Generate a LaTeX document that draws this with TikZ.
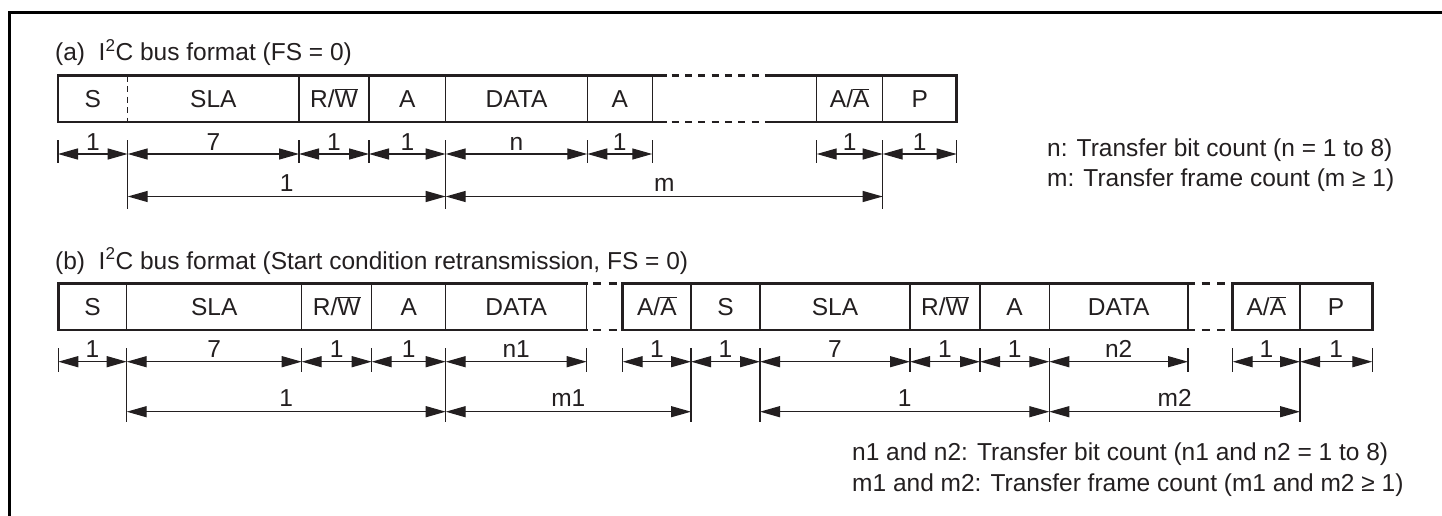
\documentclass[tikz,border=0pt]{standalone}
\usepackage{fontspec}
\setmainfont{Liberation Sans}
\usetikzlibrary{arrows.meta}
\definecolor{ink}{HTML}{231F20}
\newcommand{\ovl}[1]{$\overline{\mbox{#1}}$}
\begin{document}
\begin{tikzpicture}[x=1pt,y=-1pt,
  txt/.style={font=\fontsize{24.5}{29}\selectfont, inner sep=0pt, text=ink},
  cell/.style={txt, anchor=base},
  lab/.style={txt, anchor=base},
  legend/.style={txt, anchor=base west},
  outline/.style={draw=ink, line width=2.8pt, line join=miter},
  divider/.style={draw=ink, line width=1.5pt},
  sdash/.style={draw=ink, line width=1.3pt, dash pattern=on 6pt off 4.5pt},
  gapdash/.style={draw=ink, line width=2.8pt, dash pattern=on 8pt off 7.5pt, dash phase=9pt},
  gapdashA/.style={draw=ink, line width=2.8pt, dash pattern=on 7pt off 6.3pt, dash phase=8.3pt},
  tick/.style={draw=ink, line width=1.3pt},
  dimline/.style={draw=ink, line width=1.3pt, {Triangle[length=20pt,width=11pt]}-{Triangle[length=20pt,width=11pt]}}
]
\useasboundingbox (0,0) rectangle (1442,516);
% outer frame
\draw[line width=3pt] (9.5,520) -- (9.5,12.5) -- (1446,12.5);

% ================= (a) =================
\node[legend] (titleA) at (55,61) {(a)\ \ I\textsuperscript{2}C bus format (FS = 0)};
% outline
\draw[outline] (666.7,75.7) -- (58,75.7) -- (58,122) -- (666.7,122);
\draw[outline] (772,75.7) -- (956.7,75.7) -- (956.7,122) -- (772,122);
\draw[gapdashA] (666.7,75.7) -- (772,75.7);
\draw[gapdashA] (666.7,122) -- (772,122);
% dividers
\draw[sdash] (127.7,75.7) -- (127.7,122);
\foreach \x in {299,369,445.7,587.3,652.3,816.7,882.7}
  \draw[divider] (\x,75.7) -- (\x,122);
% cell texts
\node[cell] (aS)    at (92.85,107.7)  {S};
\node[cell] (aSLA)  at (213.35,107.7) {SLA};
\node[cell] (aRW)   at (334,107.7)    {R/\ovl{W}};
\node[cell] (aA1)   at (407.35,107.7) {A};
\node[cell] (aDATA) at (516.5,107.7)  {DATA};
\node[cell] (aA2)   at (619.8,107.7)  {A};
\node[cell] (aAA)   at (849.7,107.7)  {A/\ovl{A}};
\node[cell] (aP)    at (919.7,107.7)  {P};
% extension ticks
\foreach \x in {58,299,369,587.3,652.3,816.7,956.7}
  \draw[tick] (\x,140) -- (\x,163);
\foreach \x in {127.7,445.7,882.7}
  \draw[tick] (\x,140) -- (\x,209);
% dimension row 1
\foreach \a/\b/\t in {58/127.7/1, 127.7/299/7, 299/369/1, 369/445.7/1,
                      445.7/587.3/n, 587.3/652.3/1, 816.7/882.7/1, 882.7/956.7/1}{
  \draw[dimline] (\a,154) -- (\b,154);
  \node[lab] at ({(\a+\b)/2},150) {\t};
}
% dimension row 2
\foreach \a/\b/\t in {127.7/445.7/1, 445.7/882.7/m}{
  \draw[dimline] (\a,196.5) -- (\b,196.5);
  \node[lab] at ({(\a+\b)/2},191.5) {\t};
}
% legend
\node[legend] (legA1) at (1047,156) {n: Transfer bit count (n = 1 to 8)};
\node[legend] (legA2) at (1047,186) {m: Transfer frame count (m ≥ 1)};

% ================= (b) =================
\node[legend] (titleB) at (55,269) {(b)\ \ I\textsuperscript{2}C bus format (Start condition retransmission, FS = 0)};
% outline
\draw[outline] (588,283.3) -- (58.3,283.3) -- (58.3,330) -- (588,330);
\draw[outline] (1195,283.3) -- (622.7,283.3) -- (622.7,330) -- (1195,330);
\draw[outline] (1232.7,283.3) rectangle (1372.3,330);
\draw[gapdash] (586.7,283.3) -- (622.7,283.3);
\draw[gapdash] (586.7,330) -- (622.7,330);
\draw[gapdash] (1195,283.3) -- (1232.7,283.3);
\draw[gapdash] (1195,330) -- (1232.7,330);
% dividers
\foreach \x in {126.7,301.7,371.7,445.7,586.7,691,760,910,980,1049.3,1188,1300}
  \draw[divider] (\x,283.3) -- (\x,330);
% cell texts
\node[cell] (bS1)    at (92.5,315.5)    {S};
\node[cell] (bSLA1)  at (214.2,315.5)   {SLA};
\node[cell] (bRW1)   at (336.7,315.5)   {R/\ovl{W}};
\node[cell] (bA1)    at (408.7,315.5)   {A};
\node[cell] (bDATA1) at (516.2,315.5)   {DATA};
\node[cell] (bAA1)   at (656.85,315.5)  {A/\ovl{A}};
\node[cell] (bS2)    at (725.5,315.5)   {S};
\node[cell] (bSLA2)  at (835,315.5)     {SLA};
\node[cell] (bRW2)   at (945,315.5)     {R/\ovl{W}};
\node[cell] (bA2)    at (1014.65,315.5) {A};
\node[cell] (bDATA2) at (1118.65,315.5) {DATA};
\node[cell] (bAA2)   at (1266.35,315.5) {A/\ovl{A}};
\node[cell] (bP)     at (1336.15,315.5) {P};
% extension ticks
\foreach \x in {58.3,301.7,371.7,586.7,622.7,910,980,1188,1232.7,1372.3}
  \draw[tick] (\x,348) -- (\x,371.7);
\foreach \x in {126.7,445.7,691,760,1049.3,1300}
  \draw[tick] (\x,348) -- (\x,421.7);
% dimension row 1
\foreach \a/\b/\t in {58.3/126.7/1, 126.7/301.7/7, 301.7/371.7/1, 371.7/445.7/1,
                      445.7/586.7/n1, 622.7/691/1, 691/760/1, 760/910/7, 910/980/1,
                      980/1049.3/1, 1049.3/1188/n2, 1232.7/1300/1, 1300/1372.3/1}{
  \draw[dimline] (\a,361.7) -- (\b,361.7);
  \node[lab] at ({(\a+\b)/2},357.7) {\t};
}
% dimension row 2
\foreach \a/\b/\t in {126.7/445.7/1, 445.7/691/m1, 760/1049.3/1, 1049.3/1300/m2}{
  \draw[dimline] (\a,411.7) -- (\b,411.7);
  \node[lab] at ({(\a+\b)/2},406.7) {\t};
}
% legend
\node[legend] (legB1) at (852,460.5) {n1 and n2: Transfer bit count (n1 and n2 = 1 to 8)};
\node[legend] (legB2) at (852,491) {m1 and m2: Transfer frame count (m1 and m2 ≥ 1)};
\end{tikzpicture}
\end{document}
